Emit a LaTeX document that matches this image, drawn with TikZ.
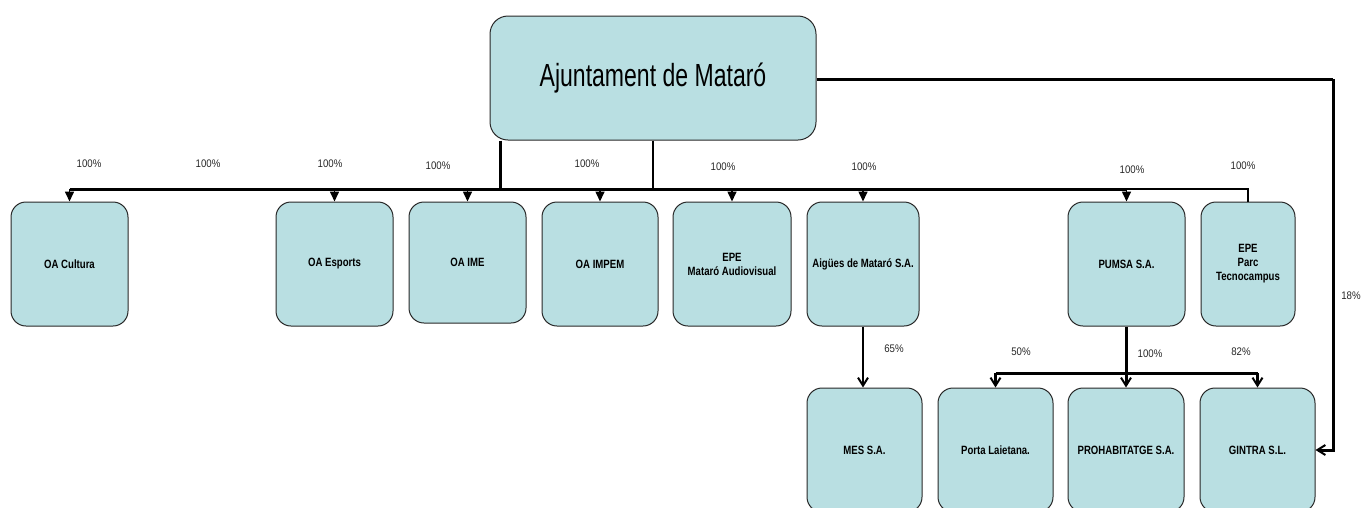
\documentclass[tikz,border=0pt]{standalone}
\usepackage{fontspec}
\setmainfont{Liberation Sans}
\newfontfamily\titlefont[FakeStretch=0.72]{Liberation Sans}
\newfontfamily\boxfont[FakeStretch=0.8]{Liberation Sans}
\newfontfamily\pctfont[FakeStretch=0.88]{Liberation Sans}
\usetikzlibrary{arrows.meta}
\definecolor{boxfill}{RGB}{185,223,226}
\definecolor{boxline}{RGB}{40,40,40}
\tikzset{
  orgbox/.style={draw=boxline, line width=1pt, fill=boxfill, rounded corners=15pt,
    inner sep=0pt, align=center, font=\boxfont\bfseries\fontsize{12}{14}\selectfont},
  titlebox/.style={orgbox, rounded corners=18pt, font=\titlefont\fontsize{32}{36}\selectfont},
  pct/.style={inner sep=0pt, font=\pctfont\fontsize{11}{13}\selectfont, text=black!85},
  thickline/.style={line width=3pt},
  thinline/.style={line width=1.6pt},
  tri/.style={-{Triangle[width=9pt,length=10pt]}},
  barb/.style={-{Straight Barb[width=10pt,length=8pt,line width=2pt]}},
}
\begin{document}
\begin{tikzpicture}[x=1pt,y=-1pt]
\useasboundingbox (0,0) rectangle (1362,507);
\clip (0,0) rectangle (1362,507);

% title
\node[titlebox, minimum width=326, minimum height=124] (aj) at (653,78) {Ajuntament de Mataró};

% row 1
\node[orgbox, minimum width=117, minimum height=124] (cult) at (69.5,264) {OA Cultura};
\node[orgbox, minimum width=117, minimum height=124] (esp) at (334.5,264) {OA Esports};
\node[orgbox, minimum width=117, minimum height=121] (ime) at (467.5,262.5) {OA IME};
\node[orgbox, minimum width=116, minimum height=124] (impem) at (600,264) {OA IMPEM};
\node[orgbox, minimum width=118, minimum height=124] (audio) at (732,264) {EPE\\Mataró Audiovisual};
\node[orgbox, minimum width=112, minimum height=124] (aig) at (863,264) {Aigües de Mataró S.A.};
\node[orgbox, minimum width=117, minimum height=124] (pumsa) at (1126.5,264) {PUMSA S.A.};
\node[orgbox, minimum width=94, minimum height=124] (tecno) at (1248,264) {EPE\\Parc\\Tecnocampus};

% row 2
\node[orgbox, minimum width=115, minimum height=124] (mes) at (864.5,450) {MES S.A.};
\node[orgbox, minimum width=115, minimum height=124] (porta) at (995.5,450) {Porta Laietana.};
\node[orgbox, minimum width=116, minimum height=124] (prohab) at (1126,450) {PROHABITATGE S.A.};
\node[orgbox, minimum width=115, minimum height=124] (gintra) at (1257.5,450) {GINTRA S.L.};

% bus coordinates
\coordinate (busL) at (69.5,189);
\coordinate (busR) at (1126.5,189);
\coordinate (bus2) at (0,373);
\coordinate (rt) at (1333,79);

% connectors from title to bus
\draw[thickline] (aj.south -| 500,0) -- (500,189);
\draw[thinline] (aj.south) -- (aj.south |- busL);
\draw[thickline] (busL) -- (busR);
\draw[thinline] (busR) -- (tecno.north |- busR) -- (tecno.north);

% arrows row 1
\foreach \n in {cult,esp,ime,impem,audio,aig,pumsa}
  \draw[thinline, tri] (\n.north |- busL) -- (\n.north);

% Aigues -> MES
\draw[line width=2pt, barb] (aig.south) -- (aig.south |- mes.north);

% PUMSA -> row 2
\draw[thickline] (pumsa.south) -- (pumsa.south |- bus2);
\draw[thickline] (porta.north |- bus2) -- (gintra.north |- bus2);
\draw[thickline, barb] (porta.north |- bus2) -- (porta.north);
\draw[thickline, barb] (prohab.north |- bus2) -- (prohab.north);
\draw[thickline, barb] (gintra.north |- bus2) -- (gintra.north);

% title -> GINTRA
\draw[thickline] (aj.east |- rt) -- (rt);
\draw[thickline, barb] (rt) -- (rt |- gintra.east) -- (gintra.east);

% labels
\node[pct] (l1) at (89,164) {100\%};
\node[pct] (l2) at (208,164) {100\%};
\node[pct] (l3) at (330,164) {100\%};
\node[pct] (l4) at (438,166) {100\%};
\node[pct] (l5) at (587,164) {100\%};
\node[pct] (l6) at (723,167) {100\%};
\node[pct] (l7) at (864,167) {100\%};
\node[pct] (l8) at (1132,170) {100\%};
\node[pct] (l9) at (1243,166) {100\%};
\node[pct] (l10) at (1351,296) {18\%};
\node[pct] (l11) at (894,349) {65\%};
\node[pct] (l12) at (1021,352) {50\%};
\node[pct] (l13) at (1150,354) {100\%};
\node[pct] (l14) at (1241,352) {82\%};
\end{tikzpicture}
\end{document}
